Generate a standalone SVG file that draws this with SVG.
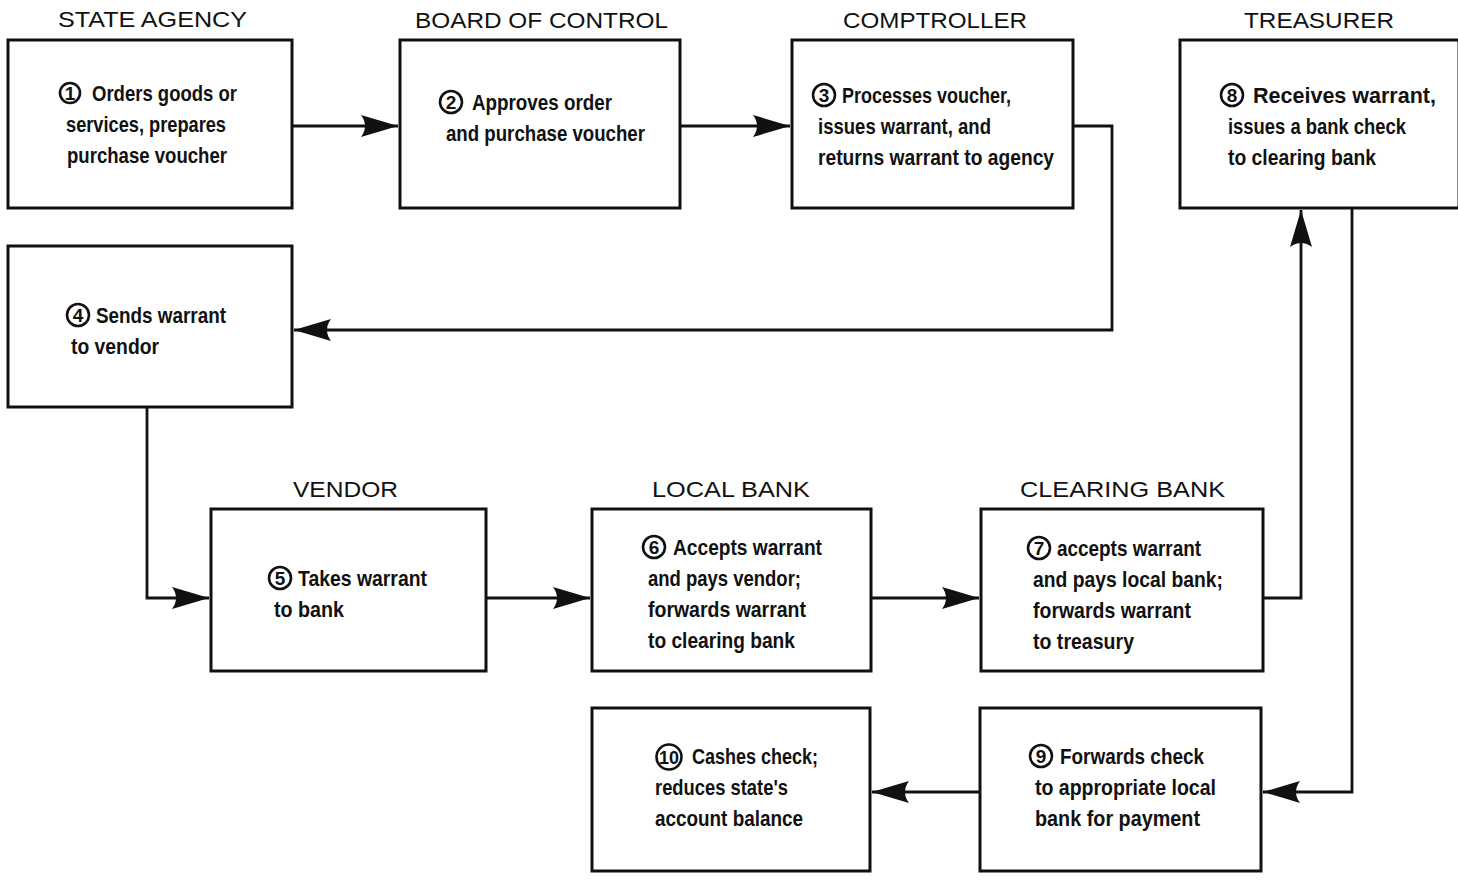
<svg xmlns="http://www.w3.org/2000/svg" width="1458" height="881" viewBox="0 0 1458 881">
<style>
.box{fill:#fff;stroke:#111;stroke-width:3}
.hdr{font-family:"Liberation Sans",Arial,sans-serif;font-size:22px;fill:#111}
.t{font-family:"Liberation Sans",Arial,sans-serif;font-size:22.5px;font-weight:bold;fill:#111}
.cn{fill:none;stroke:#111;stroke-width:2.6}
.num{font-family:"Liberation Sans",Arial,sans-serif;font-size:19px;font-weight:bold;fill:#111;text-anchor:middle}
.ln{fill:none;stroke:#111;stroke-width:2.8}
</style>
<defs>
<marker id="ah" markerUnits="userSpaceOnUse" markerWidth="44" markerHeight="28" viewBox="-40 -14 44 28" refX="0" refY="0" orient="auto">
<path d="M0,0 Q-20,-6 -37,-11 Q-29,0 -37,11 Q-20,6 0,0 Z" fill="#111"/>
</marker>
</defs>
<rect width="1458" height="881" fill="#fff"/>

<g id="connectors">
<path class="ln" d="M292,126 H398" marker-end="url(#ah)"/>
<path class="ln" d="M680,126 H790" marker-end="url(#ah)"/>
<path class="ln" d="M1073,126 H1112 V330 H294" marker-end="url(#ah)"/>
<path class="ln" d="M147,407 V598 H209" marker-end="url(#ah)"/>
<path class="ln" d="M486,598 H590" marker-end="url(#ah)"/>
<path class="ln" d="M871,598 H979" marker-end="url(#ah)"/>
<path class="ln" d="M1263,598 H1301 V210" marker-end="url(#ah)"/>
<path class="ln" d="M1352,208 V792 H1263" marker-end="url(#ah)"/>
<path class="ln" d="M980,792 H872" marker-end="url(#ah)"/>
</g>

<g id="n1">
<text class="hdr" x="58" y="27" textLength="189" lengthAdjust="spacingAndGlyphs">STATE AGENCY</text>
<rect class="box" x="8" y="40" width="284" height="168"/>
<circle class="cn" cx="70" cy="93" r="10"/><text class="num" x="70" y="100">1</text>
<text class="t" x="92" y="101" textLength="145" lengthAdjust="spacingAndGlyphs">Orders goods or</text>
<text class="t" x="66" y="132" textLength="160" lengthAdjust="spacingAndGlyphs">services, prepares</text>
<text class="t" x="67" y="163" textLength="160" lengthAdjust="spacingAndGlyphs">purchase voucher</text>
</g>

<g id="n2">
<text class="hdr" x="415" y="28" textLength="253" lengthAdjust="spacingAndGlyphs">BOARD OF CONTROL</text>
<rect class="box" x="400" y="40" width="280" height="168"/>
<circle class="cn" cx="451" cy="102" r="11"/><text class="num" x="451" y="109">2</text>
<text class="t" x="472" y="110" textLength="140" lengthAdjust="spacingAndGlyphs">Approves order</text>
<text class="t" x="446" y="141" textLength="199" lengthAdjust="spacingAndGlyphs">and purchase voucher</text>
</g>

<g id="n3">
<text class="hdr" x="843" y="28" textLength="184" lengthAdjust="spacingAndGlyphs">COMPTROLLER</text>
<rect class="box" x="792" y="40" width="281" height="168"/>
<circle class="cn" cx="824" cy="95" r="11"/><text class="num" x="824" y="102">3</text>
<text class="t" x="842" y="103" textLength="169" lengthAdjust="spacingAndGlyphs">Processes voucher,</text>
<text class="t" x="818" y="134" textLength="173" lengthAdjust="spacingAndGlyphs">issues warrant, and</text>
<text class="t" x="818" y="165" textLength="236" lengthAdjust="spacingAndGlyphs">returns warrant to agency</text>
</g>

<g id="n8">
<text class="hdr" x="1244" y="28" textLength="150" lengthAdjust="spacingAndGlyphs">TREASURER</text>
<rect class="box" x="1180" y="40" width="279" height="168"/>
<circle class="cn" cx="1232" cy="95" r="11"/><text class="num" x="1232" y="102">8</text>
<text class="t" x="1253" y="103" textLength="183" lengthAdjust="spacingAndGlyphs">Receives warrant,</text>
<text class="t" x="1228" y="134" textLength="178" lengthAdjust="spacingAndGlyphs">issues a bank check</text>
<text class="t" x="1228" y="165" textLength="148" lengthAdjust="spacingAndGlyphs">to clearing bank</text>
</g>

<g id="n4">
<rect class="box" x="8" y="246" width="284" height="161"/>
<circle class="cn" cx="78" cy="315" r="11"/><text class="num" x="78" y="322">4</text>
<text class="t" x="96" y="323" textLength="130" lengthAdjust="spacingAndGlyphs">Sends warrant</text>
<text class="t" x="71" y="354" textLength="88" lengthAdjust="spacingAndGlyphs">to vendor</text>
</g>

<g id="n5">
<text class="hdr" x="293" y="497" textLength="105" lengthAdjust="spacingAndGlyphs">VENDOR</text>
<rect class="box" x="211" y="509" width="275" height="162"/>
<circle class="cn" cx="280" cy="578" r="11"/><text class="num" x="280" y="585">5</text>
<text class="t" x="298" y="586" textLength="129" lengthAdjust="spacingAndGlyphs">Takes warrant</text>
<text class="t" x="274" y="617" textLength="70" lengthAdjust="spacingAndGlyphs">to bank</text>
</g>

<g id="n6">
<text class="hdr" x="652" y="497" textLength="158" lengthAdjust="spacingAndGlyphs">LOCAL BANK</text>
<rect class="box" x="592" y="509" width="279" height="162"/>
<circle class="cn" cx="654" cy="547" r="11"/><text class="num" x="654" y="554">6</text>
<text class="t" x="673" y="555" textLength="149" lengthAdjust="spacingAndGlyphs">Accepts warrant</text>
<text class="t" x="648" y="586" textLength="153" lengthAdjust="spacingAndGlyphs">and pays vendor;</text>
<text class="t" x="648" y="617" textLength="158" lengthAdjust="spacingAndGlyphs">forwards warrant</text>
<text class="t" x="648" y="648" textLength="147" lengthAdjust="spacingAndGlyphs">to clearing bank</text>
</g>

<g id="n7">
<text class="hdr" x="1020" y="497" textLength="205" lengthAdjust="spacingAndGlyphs">CLEARING BANK</text>
<rect class="box" x="981" y="509" width="282" height="162"/>
<circle class="cn" cx="1039" cy="548" r="11"/><text class="num" x="1039" y="555">7</text>
<text class="t" x="1057" y="556" textLength="144" lengthAdjust="spacingAndGlyphs">accepts warrant</text>
<text class="t" x="1033" y="587" textLength="190" lengthAdjust="spacingAndGlyphs">and pays local bank;</text>
<text class="t" x="1033" y="618" textLength="158" lengthAdjust="spacingAndGlyphs">forwards warrant</text>
<text class="t" x="1033" y="649" textLength="101" lengthAdjust="spacingAndGlyphs">to treasury</text>
</g>

<g id="n9">
<rect class="box" x="980" y="708" width="281" height="163"/>
<circle class="cn" cx="1041" cy="756" r="11"/><text class="num" x="1041" y="763">9</text>
<text class="t" x="1060" y="764" textLength="144" lengthAdjust="spacingAndGlyphs">Forwards check</text>
<text class="t" x="1035" y="795" textLength="181" lengthAdjust="spacingAndGlyphs">to appropriate local</text>
<text class="t" x="1035" y="826" textLength="165" lengthAdjust="spacingAndGlyphs">bank for payment</text>
</g>

<g id="n10">
<rect class="box" x="592" y="708" width="278" height="163"/>
<circle class="cn" cx="669" cy="757" r="12.5"/><text class="num" x="669" y="764" textLength="20" lengthAdjust="spacingAndGlyphs">10</text>
<text class="t" x="692" y="764" textLength="126" lengthAdjust="spacingAndGlyphs">Cashes check;</text>
<text class="t" x="655" y="795" textLength="133" lengthAdjust="spacingAndGlyphs">reduces state's</text>
<text class="t" x="655" y="826" textLength="148" lengthAdjust="spacingAndGlyphs">account balance</text>
</g>
</svg>
